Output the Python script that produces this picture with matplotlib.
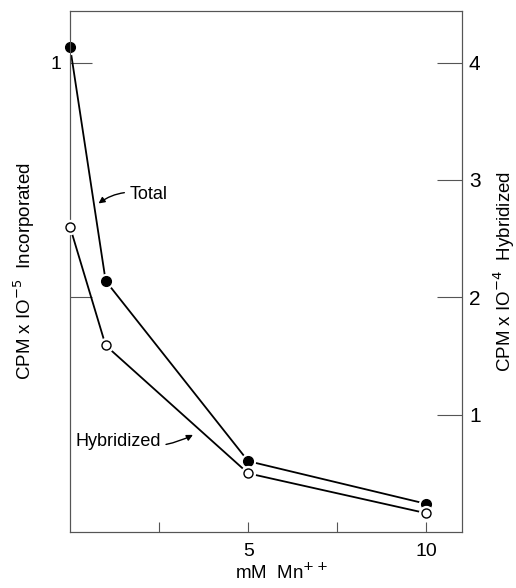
import matplotlib.pyplot as plt

# mM Mn++ concentrations
mn = [0, 1, 5, 10]
# CPM x 10^-5 incorporated (left axis)
total = [1.034, 0.535, 0.151, 0.060]
# CPM x 10^-4 hybridized (right axis)
hybridized = [2.60, 1.59, 0.50, 0.16]

plt.rcParams['font.family'] = ['Liberation Sans', 'DejaVu Sans']

fig = plt.figure(figsize=(5.16, 5.88), dpi=100)
ax = fig.add_axes([0.1357, 0.0952, 0.7596, 0.8861])
ax2 = ax.twinx()

frame_col = '#555555'
for a in (ax, ax2):
    for s in a.spines.values():
        s.set_linewidth(0.8)
        s.set_color(frame_col)

# white halo under markers gives the small gaps seen in the print
ax.plot(mn, total, '-', color='black', lw=1.3, zorder=2)
ax.plot(mn, total, 'o', ms=10, color='white', zorder=3, clip_on=False)
ax.plot(mn, total, 'o', ms=7, color='black', zorder=4, clip_on=False)

ax2.plot(mn, hybridized, '-', color='black', lw=1.3, zorder=2)
ax2.plot(mn, hybridized, 'o', ms=10, color='white', zorder=3, clip_on=False)
ax2.plot(mn, hybridized, 'o', ms=6.5, mfc='white', mec='black', mew=1.0, zorder=4, clip_on=False)

ax.set_xlim(0, 11)
ax.set_ylim(0, 1.11)
ax2.set_ylim(0, 4.44)

ax.set_xticks([2.5, 5, 7.5, 10])
ax.set_xticklabels(['', '5', '', '10'])
ax.set_yticks([0.5, 1])
ax.set_yticklabels(['', '1'])
ax2.set_yticks([1, 2, 3, 4])
ax2.set_yticklabels(['1', '2', '3', '4'])

ax.tick_params(axis='x', direction='in', length=7, width=0.8, color=frame_col,
               labelsize=14, pad=8)
ax.tick_params(axis='y', direction='in', length=16, width=0.8, color=frame_col,
               labelsize=14, pad=6)
ax2.tick_params(axis='y', direction='in', length=18, width=0.8, color=frame_col,
                labelsize=15, pad=5)

ax.set_xlabel('mM  Mn$^{++}$', fontsize=13.5, labelpad=5)
ax.xaxis.set_label_coords(0.54, -0.06)
ax.set_ylabel('CPM x IO$^{-5}$  Incorporated', fontsize=13.5, labelpad=10)
ax2.set_ylabel('CPM x IO$^{-4}$  Hybridized', fontsize=13.5, labelpad=8)

ax.annotate('Total', xy=(0.80, 0.70), xytext=(1.68, 0.718),
            fontsize=13, va='center', ha='left',
            arrowprops=dict(arrowstyle='-|>', color='black', lw=1.0,
                            mutation_scale=9, shrinkA=2, shrinkB=0,
                            connectionstyle='arc3,rad=0.25'))
ax.annotate('Hybridized', xy=(3.45, 0.207), xytext=(0.14, 0.192),
            fontsize=13, va='center', ha='left',
            arrowprops=dict(arrowstyle='-|>', color='black', lw=1.0,
                            mutation_scale=9, shrinkA=2, shrinkB=0,
                            connectionstyle='arc3,rad=0.2'))

fig.savefig('out.png', dpi=100)
